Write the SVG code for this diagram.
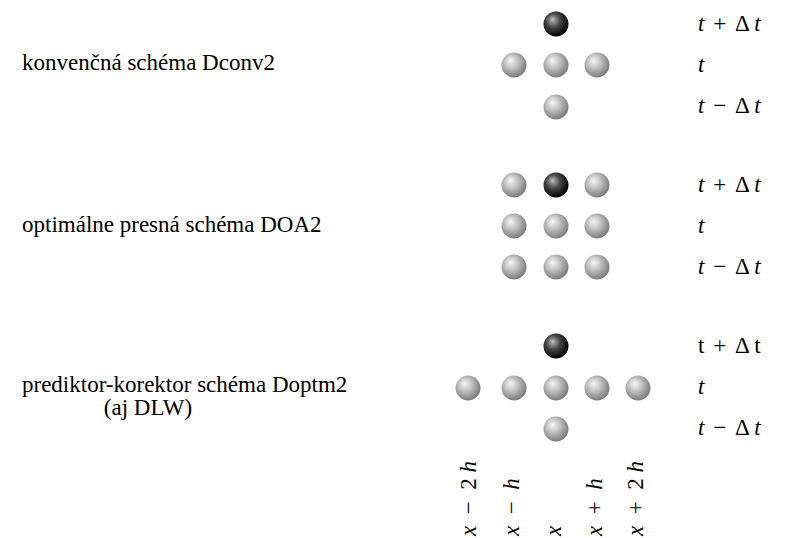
<svg xmlns="http://www.w3.org/2000/svg" width="793" height="538" viewBox="0 0 793 538">
<style>
text{font-family:'Liberation Serif','Times New Roman',serif;font-size:23px;fill:#000}
.i{font-style:italic}
</style>
<defs>
<radialGradient id="gg" cx="0.42" cy="0.4" r="0.6" fx="0.36" fy="0.32">
<stop offset="0" stop-color="#f8f8f8"/>
<stop offset="0.45" stop-color="#c2c2c2"/>
<stop offset="1" stop-color="#7c7c7c"/>
</radialGradient>
<radialGradient id="gd" cx="0.42" cy="0.4" r="0.6" fx="0.36" fy="0.32">
<stop offset="0" stop-color="#bdbdbd"/>
<stop offset="0.45" stop-color="#4a4a4a"/>
<stop offset="1" stop-color="#000000"/>
</radialGradient>
<circle id="g" r="12.5" fill="url(#gg)"/>
<circle id="d" r="12.5" fill="url(#gd)"/>
</defs>
<rect width="793" height="538" fill="#fff"/>
<g id="connectors"/>
<g id="scheme1">
<use href="#d" x="556" y="24"/>
<use href="#g" x="514" y="65"/><use href="#g" x="556" y="65"/><use href="#g" x="597" y="65"/>
<use href="#g" x="556" y="107"/>
<text x="22" y="70">konvenčná schéma Dconv2</text>
<text x="698" y="31"><tspan class="i">t</tspan><tspan dx="3"> + </tspan><tspan dx="3">Δ </tspan><tspan class="i">t</tspan></text>
<text class="i" x="698" y="72">t</text>
<text x="698" y="113"><tspan class="i">t</tspan><tspan dx="3"> − </tspan><tspan dx="3">Δ </tspan><tspan class="i">t</tspan></text>
</g>
<g id="scheme2">
<use href="#g" x="514" y="185"/><use href="#d" x="556" y="185"/><use href="#g" x="597" y="185"/>
<use href="#g" x="514" y="226"/><use href="#g" x="556" y="226"/><use href="#g" x="597" y="226"/>
<use href="#g" x="514" y="267"/><use href="#g" x="556" y="267"/><use href="#g" x="597" y="267"/>
<text x="22" y="232">optimálne presná schéma DOA2</text>
<text x="698" y="192"><tspan class="i">t</tspan><tspan dx="3"> + </tspan><tspan dx="3">Δ </tspan><tspan class="i">t</tspan></text>
<text class="i" x="698" y="233">t</text>
<text x="698" y="274"><tspan class="i">t</tspan><tspan dx="3"> − </tspan><tspan dx="3">Δ </tspan><tspan class="i">t</tspan></text>
</g>
<g id="scheme3">
<use href="#d" x="556" y="346"/>
<use href="#g" x="468" y="388"/><use href="#g" x="514" y="388"/><use href="#g" x="556" y="388"/><use href="#g" x="597" y="388"/><use href="#g" x="638" y="388"/>
<use href="#g" x="556" y="429"/>
<text x="22" y="392">prediktor-korektor schéma Doptm2</text>
<text x="148" y="415" text-anchor="middle">(aj DLW)</text>
<text x="698" y="353">t<tspan dx="3"> + </tspan><tspan dx="3">Δ t</tspan></text>
<text class="i" x="698" y="394">t</text>
<text x="698" y="435"><tspan class="i">t</tspan><tspan dx="3"> − </tspan><tspan dx="3">Δ </tspan><tspan class="i">t</tspan></text>
</g>
<g id="axis">
<text transform="translate(476,536) rotate(-90)" xml:space="preserve"><tspan class="i">x</tspan>  −  2 <tspan class="i">h</tspan></text>
<text transform="translate(519,536) rotate(-90)" xml:space="preserve"><tspan class="i">x</tspan>  −  <tspan class="i">h</tspan></text>
<text class="i" transform="translate(561,536) rotate(-90)">x</text>
<text transform="translate(602,536) rotate(-90)" xml:space="preserve"><tspan class="i">x</tspan>  +  <tspan class="i">h</tspan></text>
<text transform="translate(643,536) rotate(-90)" xml:space="preserve"><tspan class="i">x</tspan>  +  2 <tspan class="i">h</tspan></text>
</g>
</svg>
